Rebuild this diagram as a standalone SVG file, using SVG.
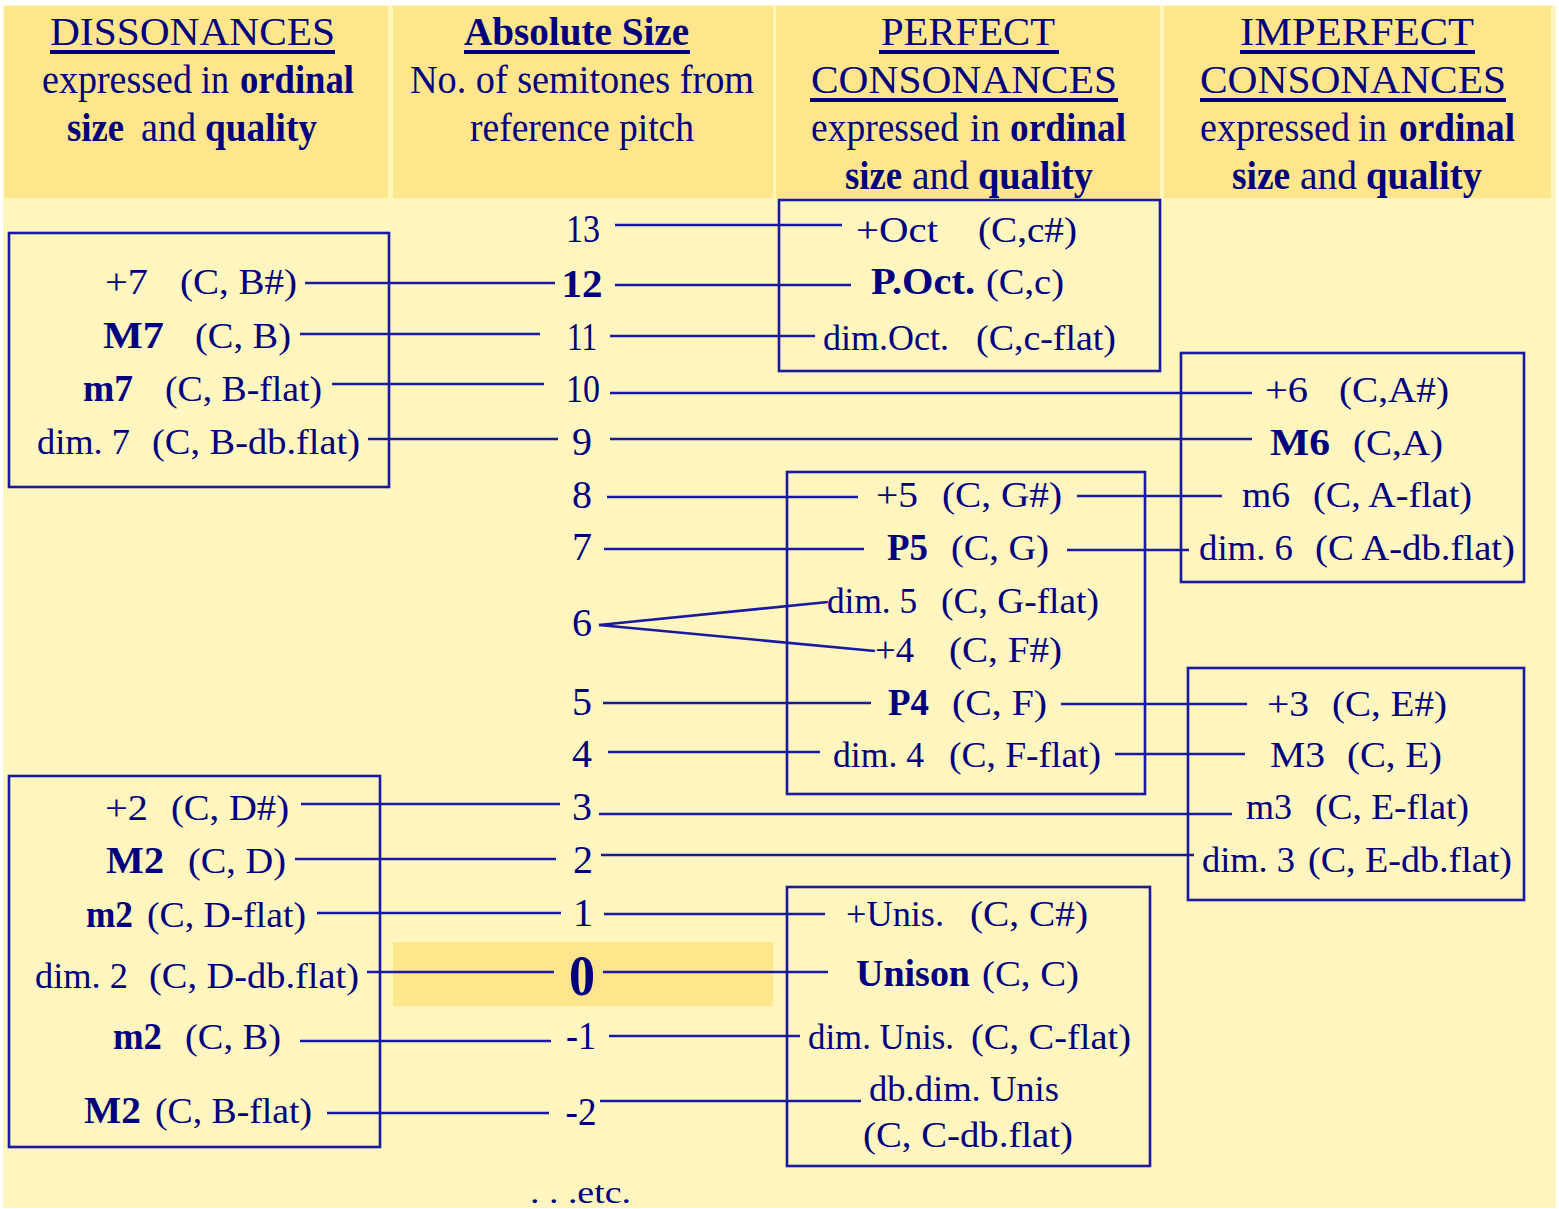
<svg xmlns="http://www.w3.org/2000/svg" width="1559" height="1209" viewBox="0 0 1559 1209">
<style>
text{font-family:"Liberation Serif","Times New Roman",serif;fill:#00007f;}
.h{font-size:40px}
.r{font-size:35px}
.b{font-size:37px;font-weight:bold}
.n{font-size:40px;text-anchor:middle}
.box{fill:none;stroke:#1a1aa0;stroke-width:2.6}
.c line{stroke:#1a1aa0;stroke-width:2.6}
.cell{fill:#ffe58c}
.ul{fill:#00007f}
</style>
<rect x="0" y="0" width="1559" height="1209" fill="#ffffff"/>
<rect x="3" y="5" width="1553" height="1203" fill="#fff5bf"/>

<g id="hdr-dissonances">
<rect class="cell" x="4" y="6" width="384" height="192"/>
<text class="h" x="50" y="45" textLength="285" lengthAdjust="spacingAndGlyphs">DISSONANCES</text>
<rect class="ul" x="50" y="50" width="285" height="4"/>
<text class="h" x="42" y="93" textLength="150" lengthAdjust="spacingAndGlyphs">expressed</text>
<text class="h" x="201" y="93" textLength="28" lengthAdjust="spacingAndGlyphs">in</text>
<text class="h" x="240" y="93" font-weight="bold" textLength="114" lengthAdjust="spacingAndGlyphs">ordinal</text>
<text class="h" x="67" y="141" font-weight="bold" textLength="57" lengthAdjust="spacingAndGlyphs">size</text>
<text class="h" x="141" y="141" textLength="55" lengthAdjust="spacingAndGlyphs">and</text>
<text class="h" x="205" y="141" font-weight="bold" textLength="112" lengthAdjust="spacingAndGlyphs">quality</text>
</g>

<g id="hdr-absolute">
<rect class="cell" x="393" y="6" width="380" height="192"/>
<text class="h" x="464" y="45" font-weight="bold" textLength="225" lengthAdjust="spacingAndGlyphs">Absolute Size</text>
<rect class="ul" x="464" y="50" width="226" height="4"/>
<text class="h" x="410" y="93" textLength="344" lengthAdjust="spacingAndGlyphs">No. of semitones from</text>
<text class="h" x="470" y="141" textLength="224" lengthAdjust="spacingAndGlyphs">reference pitch</text>
</g>

<g id="hdr-perfect">
<rect class="cell" x="776" y="6" width="384" height="192"/>
<text class="h" x="881" y="45" textLength="174" lengthAdjust="spacingAndGlyphs">PERFECT</text>
<rect class="ul" x="879" y="50" width="180" height="4"/>
<text class="h" x="811" y="93" textLength="306" lengthAdjust="spacingAndGlyphs">CONSONANCES</text>
<rect class="ul" x="810" y="98" width="308" height="4"/>
<text class="h" x="811" y="141" textLength="148" lengthAdjust="spacingAndGlyphs">expressed</text>
<text class="h" x="970" y="141" textLength="30" lengthAdjust="spacingAndGlyphs">in</text>
<text class="h" x="1010" y="141" font-weight="bold" textLength="116" lengthAdjust="spacingAndGlyphs">ordinal</text>
<text class="h" x="845" y="189" font-weight="bold" textLength="57" lengthAdjust="spacingAndGlyphs">size</text>
<text class="h" x="912" y="189" textLength="57" lengthAdjust="spacingAndGlyphs">and</text>
<text class="h" x="978" y="189" font-weight="bold" textLength="115" lengthAdjust="spacingAndGlyphs">quality</text>
</g>

<g id="hdr-imperfect">
<rect class="cell" x="1164" y="6" width="387" height="192"/>
<text class="h" x="1240" y="45" textLength="234" lengthAdjust="spacingAndGlyphs">IMPERFECT</text>
<rect class="ul" x="1240" y="50" width="235" height="4"/>
<text class="h" x="1200" y="93" textLength="306" lengthAdjust="spacingAndGlyphs">CONSONANCES</text>
<rect class="ul" x="1200" y="98" width="306" height="4"/>
<text class="h" x="1200" y="141" textLength="150" lengthAdjust="spacingAndGlyphs">expressed</text>
<text class="h" x="1358" y="141" textLength="29" lengthAdjust="spacingAndGlyphs">in</text>
<text class="h" x="1399" y="141" font-weight="bold" textLength="116" lengthAdjust="spacingAndGlyphs">ordinal</text>
<text class="h" x="1232" y="189" font-weight="bold" textLength="58" lengthAdjust="spacingAndGlyphs">size</text>
<text class="h" x="1300" y="189" textLength="57" lengthAdjust="spacingAndGlyphs">and</text>
<text class="h" x="1366" y="189" font-weight="bold" textLength="116" lengthAdjust="spacingAndGlyphs">quality</text>
</g>

<rect id="zero-highlight" x="393" y="942" width="380" height="64" fill="#ffe58c"/>

<g id="connectors" class="c">
<line x1="615" y1="225" x2="842" y2="225"/>
<line x1="305" y1="283" x2="555" y2="283"/>
<line x1="615" y1="285" x2="851" y2="285"/>
<line x1="300" y1="334" x2="540" y2="334"/>
<line x1="610" y1="336" x2="815" y2="336"/>
<line x1="332" y1="384" x2="544" y2="384"/>
<line x1="610" y1="393" x2="1252" y2="393"/>
<line x1="368" y1="439" x2="558" y2="439"/>
<line x1="610" y1="439" x2="1252" y2="439"/>
<line x1="607" y1="497" x2="858" y2="497"/>
<line x1="1077" y1="496" x2="1222" y2="496"/>
<line x1="604" y1="549" x2="864" y2="549"/>
<line x1="1067" y1="550" x2="1189" y2="550"/>
<line x1="599" y1="625" x2="828" y2="602"/>
<line x1="599" y1="625" x2="875" y2="651"/>
<line x1="603" y1="703" x2="871" y2="703"/>
<line x1="1061" y1="704" x2="1247" y2="704"/>
<line x1="608" y1="752" x2="820" y2="752"/>
<line x1="1115" y1="754" x2="1245" y2="754"/>
<line x1="301" y1="804" x2="560" y2="804"/>
<line x1="599" y1="814" x2="1232" y2="814"/>
<line x1="295" y1="859" x2="556" y2="859"/>
<line x1="601" y1="855" x2="1194" y2="855"/>
<line x1="317" y1="913" x2="561" y2="913"/>
<line x1="604" y1="914" x2="825" y2="914"/>
<line x1="367" y1="972" x2="554" y2="972"/>
<line x1="603" y1="972" x2="828" y2="972"/>
<line x1="300" y1="1041" x2="551" y2="1041"/>
<line x1="609" y1="1036" x2="800" y2="1036"/>
<line x1="327" y1="1113" x2="549" y2="1113"/>
<line x1="600" y1="1101" x2="861" y2="1101"/>
</g>

<g id="diss-7ths">
<rect class="box" x="9" y="233" width="380" height="254"/>
<text class="r" x="105" y="294" textLength="43" lengthAdjust="spacingAndGlyphs">+7</text>
<text class="r" x="180" y="294" textLength="117" lengthAdjust="spacingAndGlyphs">(C, B#)</text>
<text class="b" x="103" y="348" textLength="61" lengthAdjust="spacingAndGlyphs">M7</text>
<text class="r" x="195" y="348" textLength="96" lengthAdjust="spacingAndGlyphs">(C, B)</text>
<text class="b" x="83" y="401" textLength="50" lengthAdjust="spacingAndGlyphs">m7</text>
<text class="r" x="165" y="401" textLength="157" lengthAdjust="spacingAndGlyphs">(C, B-flat)</text>
<text class="r" x="37" y="454" textLength="93" lengthAdjust="spacingAndGlyphs">dim. 7</text>
<text class="r" x="152" y="454" textLength="208" lengthAdjust="spacingAndGlyphs">(C, B-db.flat)</text>
</g>

<g id="diss-2nds">
<rect class="box" x="9" y="776" width="371" height="371"/>
<text class="r" x="105" y="820" textLength="43" lengthAdjust="spacingAndGlyphs">+2</text>
<text class="r" x="171" y="820" textLength="118" lengthAdjust="spacingAndGlyphs">(C, D#)</text>
<text class="b" x="106" y="873" textLength="58" lengthAdjust="spacingAndGlyphs">M2</text>
<text class="r" x="188" y="873" textLength="98" lengthAdjust="spacingAndGlyphs">(C, D)</text>
<text class="b" x="86" y="927" textLength="47" lengthAdjust="spacingAndGlyphs">m2</text>
<text class="r" x="147" y="927" textLength="159" lengthAdjust="spacingAndGlyphs">(C, D-flat)</text>
<text class="r" x="35" y="988" textLength="93" lengthAdjust="spacingAndGlyphs">dim. 2</text>
<text class="r" x="149" y="988" textLength="210" lengthAdjust="spacingAndGlyphs">(C, D-db.flat)</text>
<text class="b" x="113" y="1049" textLength="49" lengthAdjust="spacingAndGlyphs">m2</text>
<text class="r" x="185" y="1049" textLength="96" lengthAdjust="spacingAndGlyphs">(C, B)</text>
<text class="b" x="84" y="1123" textLength="57" lengthAdjust="spacingAndGlyphs">M2</text>
<text class="r" x="155" y="1123" textLength="157" lengthAdjust="spacingAndGlyphs">(C, B-flat)</text>
</g>

<g id="n13"><text class="n" x="583" y="242" textLength="34" lengthAdjust="spacingAndGlyphs">13</text></g>
<g id="n12"><text class="n" x="582" y="297" font-weight="bold" textLength="41" lengthAdjust="spacingAndGlyphs">12</text></g>
<g id="n11"><text class="n" x="582" y="350" textLength="30" lengthAdjust="spacingAndGlyphs">11</text></g>
<g id="n10"><text class="n" x="583" y="402" textLength="34" lengthAdjust="spacingAndGlyphs">10</text></g>
<g id="n9"><text class="n" x="582" y="455">9</text></g>
<g id="n8"><text class="n" x="582" y="508">8</text></g>
<g id="n7"><text class="n" x="582" y="560">7</text></g>
<g id="n6"><text class="n" x="582" y="636">6</text></g>
<g id="n5"><text class="n" x="582" y="715">5</text></g>
<g id="n4"><text class="n" x="582" y="767">4</text></g>
<g id="n3"><text class="n" x="582" y="820">3</text></g>
<g id="n2"><text class="n" x="583" y="873">2</text></g>
<g id="n1"><text class="n" x="583" y="926">1</text></g>
<g id="n0"><text x="582" y="995" font-size="58" font-weight="bold" text-anchor="middle" textLength="26" lengthAdjust="spacingAndGlyphs">0</text></g>
<g id="nm1"><text class="n" x="581" y="1049" textLength="30" lengthAdjust="spacingAndGlyphs">-1</text></g>
<g id="nm2"><text class="n" x="581" y="1125" textLength="31" lengthAdjust="spacingAndGlyphs">-2</text></g>
<text x="530" y="1203" font-size="32" textLength="101" lengthAdjust="spacingAndGlyphs">. . .etc.</text>

<g id="perf-octaves">
<rect class="box" x="779" y="200" width="381" height="171"/>
<text class="r" x="856" y="242" textLength="82" lengthAdjust="spacingAndGlyphs">+Oct</text>
<text class="r" x="978" y="242" textLength="99" lengthAdjust="spacingAndGlyphs">(C,c#)</text>
<text class="b" x="871" y="294" textLength="104" lengthAdjust="spacingAndGlyphs">P.Oct.</text>
<text class="r" x="986" y="294" textLength="78" lengthAdjust="spacingAndGlyphs">(C,c)</text>
<text class="r" x="823" y="350" textLength="126" lengthAdjust="spacingAndGlyphs">dim.Oct.</text>
<text class="r" x="976" y="350" textLength="140" lengthAdjust="spacingAndGlyphs">(C,c-flat)</text>
</g>

<g id="perf-5ths-4ths">
<rect class="box" x="787" y="472" width="358" height="322"/>
<text class="r" x="876" y="507" textLength="42" lengthAdjust="spacingAndGlyphs">+5</text>
<text class="r" x="942" y="507" textLength="120" lengthAdjust="spacingAndGlyphs">(C, G#)</text>
<text class="b" x="887" y="560" textLength="41" lengthAdjust="spacingAndGlyphs">P5</text>
<text class="r" x="951" y="560" textLength="98" lengthAdjust="spacingAndGlyphs">(C, G)</text>
<text class="r" x="827" y="613" textLength="90" lengthAdjust="spacingAndGlyphs">dim. 5</text>
<text class="r" x="941" y="613" textLength="158" lengthAdjust="spacingAndGlyphs">(C, G-flat)</text>
<text class="r" x="875" y="662" textLength="39" lengthAdjust="spacingAndGlyphs">+4</text>
<text class="r" x="949" y="662" textLength="113" lengthAdjust="spacingAndGlyphs">(C, F#)</text>
<text class="b" x="888" y="715" textLength="41" lengthAdjust="spacingAndGlyphs">P4</text>
<text class="r" x="952" y="715" textLength="95" lengthAdjust="spacingAndGlyphs">(C, F)</text>
<text class="r" x="833" y="767" textLength="91" lengthAdjust="spacingAndGlyphs">dim. 4</text>
<text class="r" x="949" y="767" textLength="152" lengthAdjust="spacingAndGlyphs">(C, F-flat)</text>
</g>

<g id="perf-unisons">
<rect class="box" x="787" y="887" width="363" height="279"/>
<text class="r" x="846" y="926" textLength="98" lengthAdjust="spacingAndGlyphs">+Unis.</text>
<text class="r" x="970" y="926" textLength="118" lengthAdjust="spacingAndGlyphs">(C, C#)</text>
<text class="b" x="856" y="986" textLength="114" lengthAdjust="spacingAndGlyphs">Unison</text>
<text class="r" x="982" y="986" textLength="97" lengthAdjust="spacingAndGlyphs">(C, C)</text>
<text class="r" x="808" y="1049" textLength="146" lengthAdjust="spacingAndGlyphs">dim. Unis.</text>
<text class="r" x="971" y="1049" textLength="160" lengthAdjust="spacingAndGlyphs">(C, C-flat)</text>
<text class="r" x="869" y="1101" textLength="190" lengthAdjust="spacingAndGlyphs">db.dim. Unis</text>
<text class="r" x="863" y="1147" textLength="210" lengthAdjust="spacingAndGlyphs">(C, C-db.flat)</text>
</g>

<g id="imperf-6ths">
<rect class="box" x="1181" y="353" width="343" height="229"/>
<text class="r" x="1265" y="402" textLength="43" lengthAdjust="spacingAndGlyphs">+6</text>
<text class="r" x="1339" y="402" textLength="110" lengthAdjust="spacingAndGlyphs">(C,A#)</text>
<text class="b" x="1270" y="455" textLength="60" lengthAdjust="spacingAndGlyphs">M6</text>
<text class="r" x="1353" y="455" textLength="90" lengthAdjust="spacingAndGlyphs">(C,A)</text>
<text class="r" x="1242" y="507" textLength="48" lengthAdjust="spacingAndGlyphs">m6</text>
<text class="r" x="1313" y="507" textLength="159" lengthAdjust="spacingAndGlyphs">(C, A-flat)</text>
<text class="r" x="1199" y="560" textLength="94" lengthAdjust="spacingAndGlyphs">dim. 6</text>
<text class="r" x="1315" y="560" textLength="200" lengthAdjust="spacingAndGlyphs">(C A-db.flat)</text>
</g>

<g id="imperf-3rds">
<rect class="box" x="1188" y="668" width="336" height="232"/>
<text class="r" x="1267" y="716" textLength="42" lengthAdjust="spacingAndGlyphs">+3</text>
<text class="r" x="1332" y="716" textLength="115" lengthAdjust="spacingAndGlyphs">(C, E#)</text>
<text class="r" x="1270" y="767" textLength="55" lengthAdjust="spacingAndGlyphs">M3</text>
<text class="r" x="1347" y="767" textLength="95" lengthAdjust="spacingAndGlyphs">(C, E)</text>
<text class="r" x="1246" y="819" textLength="46" lengthAdjust="spacingAndGlyphs">m3</text>
<text class="r" x="1315" y="819" textLength="154" lengthAdjust="spacingAndGlyphs">(C, E-flat)</text>
<text class="r" x="1202" y="872" textLength="93" lengthAdjust="spacingAndGlyphs">dim. 3</text>
<text class="r" x="1308" y="872" textLength="204" lengthAdjust="spacingAndGlyphs">(C, E-db.flat)</text>
</g>
</svg>
